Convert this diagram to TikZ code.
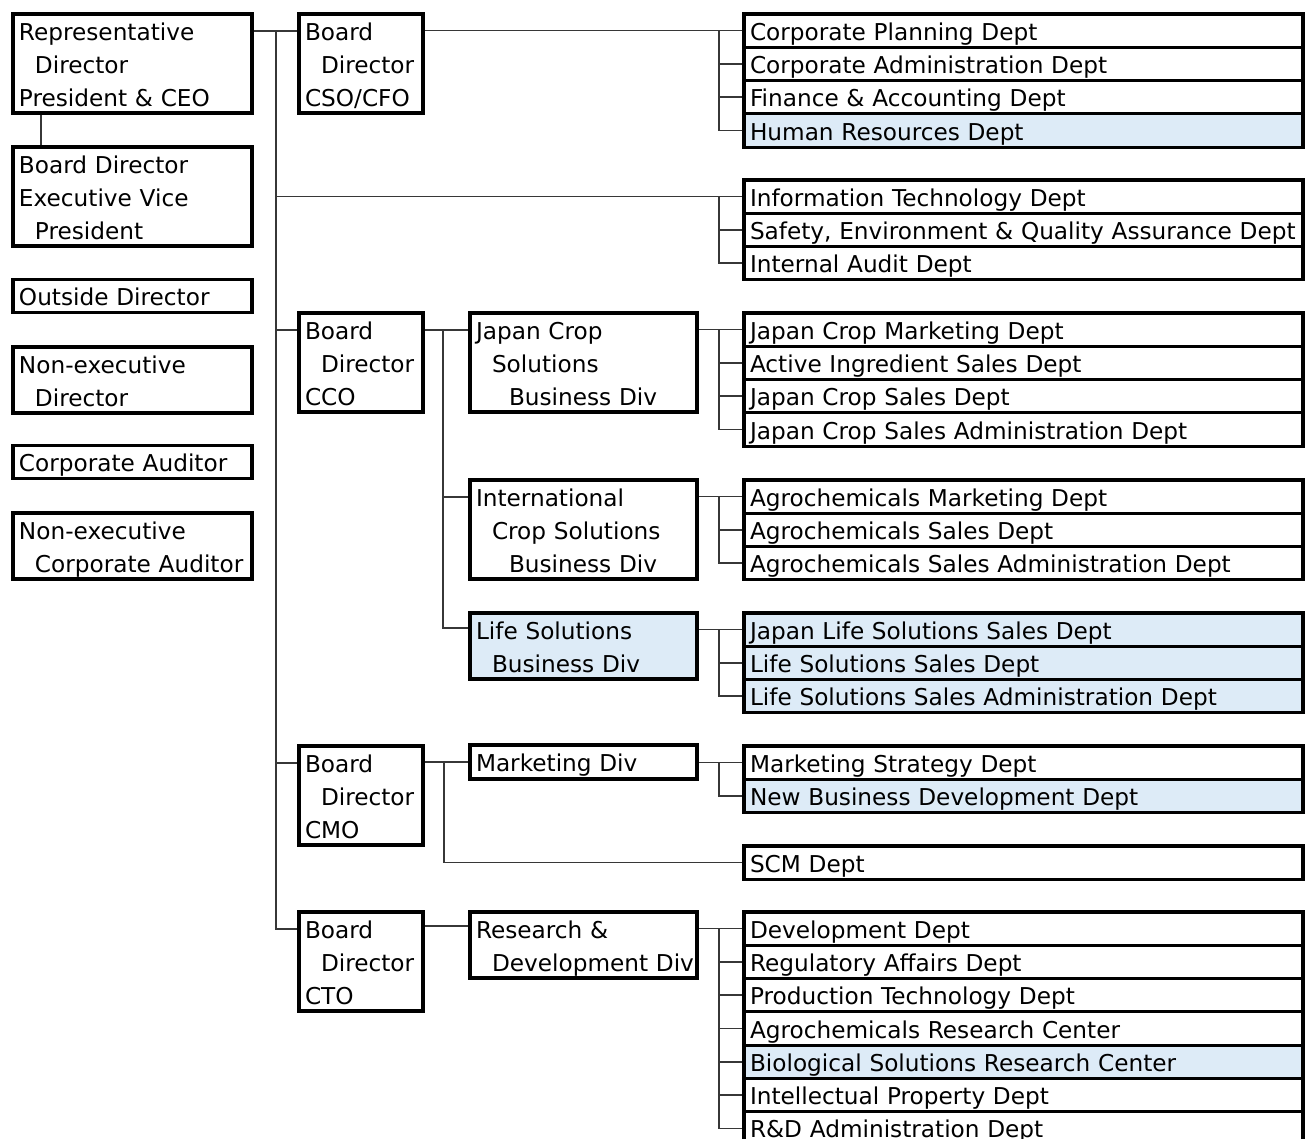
\documentclass[tikz,border=0pt]{standalone}
\usepackage{fontspec}
\setmainfont{DejaVu Sans}
\usetikzlibrary{backgrounds,calc}
\definecolor{hl}{RGB}{221,235,247}
\definecolor{lnk}{RGB}{55,55,55}
\newcommand\boxfont{\fontsize{23.2}{33}\selectfont}
\newcommand\bstrut{\vrule height 26pt depth 7pt width 0pt}
\newcommand\keepline[1]{\mbox{#1}}
\newcommand\indA{\hspace*{16pt}}
\newcommand\indB{\hspace*{33pt}}
\tikzset{
 box/.style={draw=black, line width=3.1pt, fill=white, rectangle, anchor=north west, outer sep=0pt,
   inner xsep=6pt, inner ysep=0pt, align=left, font=\boxfont,
   execute at begin node=\bstrut, execute at end node=\bstrut},
 leftbox/.style={box, minimum width=239pt, text width=227pt},
 boardbox/.style={box, minimum width=124pt, text width=112pt},
 divbox/.style={box, minimum width=227pt, text width=215pt},
 deptbox/.style={box, minimum width=559pt, minimum height=33.3pt, text width=547pt},
 hi/.style={fill=hl},
 conn/.style={draw=lnk, line width=1.6pt},
}
\newcommand\deptrow[4][]{\node[deptbox,#1] (#2) at (744,#3) {\keepline{#4}};}
\begin{document}
\begin{tikzpicture}[x=1pt,y=-1pt]
\useasboundingbox (0,0) rectangle (1306,1138);
\clip (0,0) rectangle (1306,1138);
% left column
\node[leftbox, minimum height=98pt] (rep) at (13,14) {\keepline{Representative}\\\keepline{\indA Director}\\\keepline{President \& CEO}};
\node[leftbox, minimum height=97pt] (evp) at (13,147) {\keepline{Board Director}\\\keepline{Executive Vice}\\\keepline{\indA President}};
\node[leftbox, minimum height=32pt] (outd) at (13,279.5) {\keepline{Outside Director}};
\node[leftbox, minimum height=65pt] (ned) at (13,347) {\keepline{Non-executive}\\\keepline{\indA Director}};
\node[leftbox, minimum height=33pt] (cau) at (13,445.5) {\keepline{Corporate Auditor}};
\node[leftbox, minimum height=66pt] (neca) at (13,513) {\keepline{Non-executive}\\\keepline{\indA Corporate Auditor}};
% board directors
\node[boardbox, minimum height=98pt] (cso) at (299,14) {\keepline{Board}\\\keepline{\indA Director}\\\keepline{CSO/CFO}};
\node[boardbox, minimum height=98pt] (cco) at (299,313) {\keepline{Board}\\\keepline{\indA Director}\\\keepline{CCO}};
\node[boardbox, minimum height=99pt] (cmo) at (299,746) {\keepline{Board}\\\keepline{\indA Director}\\\keepline{CMO}};
\node[boardbox, minimum height=99pt] (cto) at (299,912) {\keepline{Board}\\\keepline{\indA Director}\\\keepline{CTO}};
% divisions
\node[divbox, minimum height=98pt] (jc) at (470,313) {\keepline{Japan Crop}\\\keepline{\indA Solutions}\\\keepline{\indB Business Div}};
\node[divbox, minimum height=99pt] (icd) at (470,480) {\keepline{International}\\\keepline{\indA Crop Solutions}\\\keepline{\indB Business Div}};
\node[divbox, hi, minimum height=66pt] (lsd) at (470,613) {\keepline{Life Solutions}\\\keepline{\indA Business Div}};
\node[divbox, minimum height=34pt] (mkd) at (470,745) {\keepline{Marketing Div}};
\node[divbox, minimum height=66pt] (rdd) at (470,912) {\keepline{Research \&}\\\keepline{\indA Development Div}};
% departments
\deptrow{cp}{14}{Corporate Planning Dept}
\deptrow{cad}{47.3}{Corporate Administration Dept}
\deptrow{fa}{80.6}{Finance \& Accounting Dept}
\deptrow[hi]{hr}{113.9}{Human Resources Dept}
\deptrow{it}{180}{Information Technology Dept}
\deptrow{saf}{213.3}{Safety, Environment \& Quality Assurance Dept}
\deptrow{ia}{246.6}{Internal Audit Dept}
\deptrow{jcm}{313}{Japan Crop Marketing Dept}
\deptrow{ais}{346.3}{Active Ingredient Sales Dept}
\deptrow{jcs}{379.6}{Japan Crop Sales Dept}
\deptrow{jcsa}{412.9}{Japan Crop Sales Administration Dept}
\deptrow{am}{480}{Agrochemicals Marketing Dept}
\deptrow{as}{513.3}{Agrochemicals Sales Dept}
\deptrow{asa}{546.6}{Agrochemicals Sales Administration Dept}
\deptrow[hi]{jls}{613}{Japan Life Solutions Sales Dept}
\deptrow[hi]{lss}{646.3}{Life Solutions Sales Dept}
\deptrow[hi]{lssa}{679.6}{Life Solutions Sales Administration Dept}
\deptrow{ms}{746}{Marketing Strategy Dept}
\deptrow[hi]{nbd}{779.3}{New Business Development Dept}
\deptrow{scm}{846}{SCM Dept}
\deptrow{dev}{912}{Development Dept}
\deptrow{reg}{945.3}{Regulatory Affairs Dept}
\deptrow{pt}{978.6}{Production Technology Dept}
\deptrow{arc}{1011.9}{Agrochemicals Research Center}
\deptrow[hi]{bsr}{1045.2}{Biological Solutions Research Center}
\deptrow{ip}{1078.5}{Intellectual Property Dept}
\deptrow{rda}{1111.8}{R\&D Administration Dept}
% connectors
\begin{pgfonlayer}{background}
\coordinate (trunk) at (276,31);
\coordinate (bx) at (719,0);
\coordinate (sxa) at (443,0);
\coordinate (sxb) at (444,0);
\path ([yshift=-17pt]cco.north west) coordinate (ccoW);
\path ([yshift=-17pt]cmo.north west) coordinate (cmoW);
\path ([yshift=-17pt]cco.north east) coordinate (ccoE);
\path ([yshift=-17pt]icd.north west) coordinate (icdW);
\path ([yshift=-15pt]lsd.north west) coordinate (lsdW);
\draw[conn] ([xshift=28pt]rep.south west) -- ([xshift=28pt]evp.north west);
\draw[conn] ([yshift=-17pt]rep.north east) -- ([yshift=-17pt]cso.north west);
\draw[conn] (trunk) |- ([yshift=-17pt]cto.north west);
\draw[conn] (trunk |- it.west) -- (it.west);
\draw[conn] (trunk |- ccoW) -- (ccoW);
\draw[conn] (trunk |- cmoW) -- (cmoW);
% CSO group
\draw[conn] (cso.east |- cp.west) -- (cp.west);
\draw[conn] (bx |- cp.west) |- (hr.west);
\draw[conn] (bx |- cad.west) -- (cad.west);
\draw[conn] (bx |- fa.west) -- (fa.west);
% IT group
\draw[conn] (bx |- it.west) |- (ia.west);
\draw[conn] (bx |- saf.west) -- (saf.west);
% CCO
\draw[conn] (ccoE) -- ([yshift=-17pt]jc.north west);
\draw[conn] (sxa |- ccoE) |- (lsdW);
\draw[conn] (sxa |- icdW) -- (icdW);
\draw[conn] (jc.east |- jcm.west) -- (jcm.west);
\draw[conn] (bx |- jcm.west) |- (jcsa.west);
\draw[conn] (bx |- ais.west) -- (ais.west);
\draw[conn] (bx |- jcs.west) -- (jcs.west);
\draw[conn] (icd.east |- am.west) -- (am.west);
\draw[conn] (bx |- am.west) |- (asa.west);
\draw[conn] (bx |- as.west) -- (as.west);
\draw[conn] (lsd.east |- jls.west) -- (jls.west);
\draw[conn] (bx |- jls.west) |- (lssa.west);
\draw[conn] (bx |- lss.west) -- (lss.west);
% CMO
\draw[conn] (cmo.east |- mkd.west) -- (mkd.west);
\draw[conn] (sxb |- mkd.west) |- (scm.west);
\draw[conn] (mkd.east |- ms.west) -- (ms.west);
\draw[conn] (bx |- ms.west) |- (nbd.west);
% CTO
\draw[conn] ([yshift=-14pt]cto.north east) -- ([yshift=-14pt]rdd.north west);
\draw[conn] (rdd.east |- dev.west) -- (dev.west);
\draw[conn] (bx |- dev.west) |- (rda.west);
\draw[conn] (bx |- reg.west) -- (reg.west);
\draw[conn] (bx |- pt.west) -- (pt.west);
\draw[conn] (bx |- arc.west) -- (arc.west);
\draw[conn] (bx |- bsr.west) -- (bsr.west);
\draw[conn] (bx |- ip.west) -- (ip.west);
\end{pgfonlayer}
\end{tikzpicture}
\end{document}
